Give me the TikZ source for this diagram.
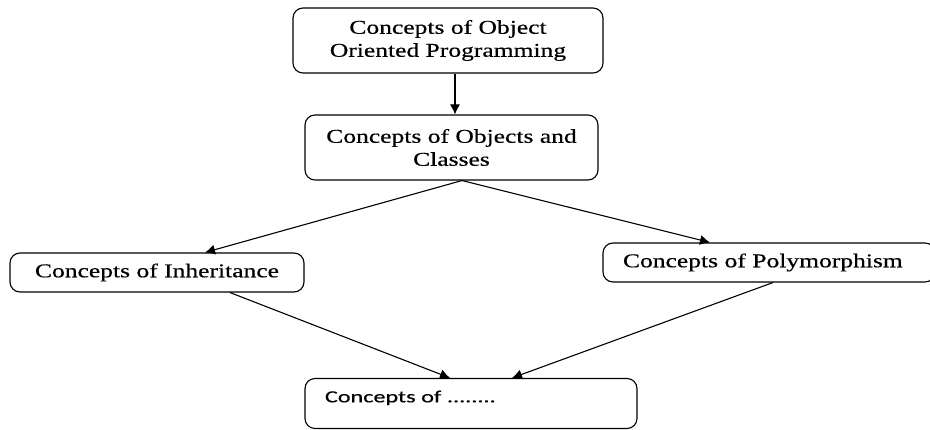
\documentclass[tikz,border=0pt]{standalone}
\usepackage{fontspec}
\newfontfamily\boxfont[FakeStretch=1.31,FakeBold=0.5]{Liberation Serif}
\newfontfamily\etcfont[FakeStretch=1.42,FakeBold=0.4]{Carlito}
\usetikzlibrary{arrows.meta,positioning}
\tikzset{
    concept/.style={
        draw,
        rectangle,
        rounded corners=10pt,
        line width=1.1pt,
        font=\boxfont\fontsize{19.5}{23}\selectfont,
        align=center
    },
    leftbox/.style={
        concept,
        align=left,
        inner xsep=20pt,
        text width=292pt
    },
    link/.style={
        line width=1.1pt,
        -{Latex[length=10pt,width=10pt]}
    }
}

\begin{document}
\begin{tikzpicture}[x=1pt,y=-1pt]
  \useasboundingbox (0,0) rectangle (930,430);

  \node[concept, minimum width=310pt, minimum height=65pt] at (448,40.5) (OOP)
    {Concepts of Object\\Oriented Programming};
  \node[concept, minimum width=293pt, minimum height=65pt] at (451.5,147.5) (Cls)
    {Concepts of Objects and\\Classes};
  \node[concept, minimum width=294pt, minimum height=39pt] at (157,272.5) (Inh)
    {Concepts of Inheritance};
  \node[leftbox, minimum height=39pt] at (769,262.5) (Poly)
    {Concepts of Polymorphism};
  \node[leftbox, minimum height=50pt, text depth=14pt,
        font=\etcfont\fontsize{17}{20}\selectfont] at (471,403.5) (Etc)
    {Concepts of ........};

  \draw[link] ([xshift=7pt]OOP.south) -- ([xshift=3.5pt]Cls.north);
  \draw[link] ([xshift=10.5pt]Cls.south) -- ([xshift=48pt]Inh.north);
  \draw[link] ([xshift=10.5pt]Cls.south) -- ([xshift=-59pt]Poly.north);
  \draw[link] ([xshift=73pt]Inh.south) -- ([xshift=-21pt]Etc.north);
  \draw[link] ([xshift=4pt]Poly.south) -- ([xshift=41pt]Etc.north);

\end{tikzpicture}
\end{document}
